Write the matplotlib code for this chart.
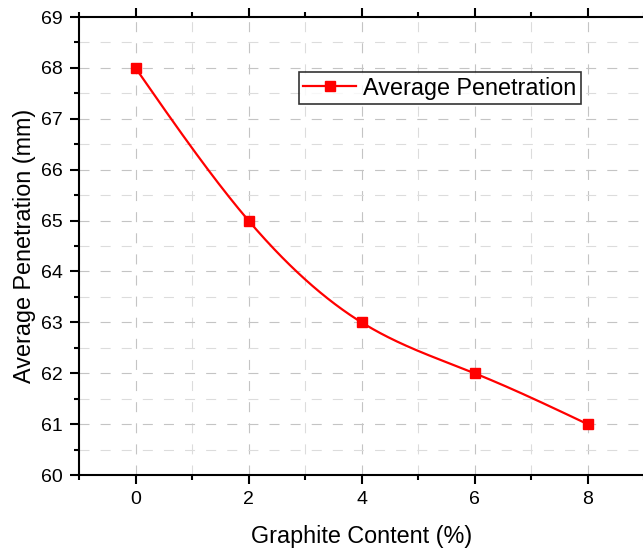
import numpy as np
import matplotlib
matplotlib.use("Agg")
import matplotlib.pyplot as plt
from matplotlib.ticker import MultipleLocator

graphite = [0, 2, 4, 6, 8]
penetration = [68, 65, 63, 62, 61]
series_label = "Average Penetration"
x_label = "Graphite Content (%)"
y_label = "Average Penetration (mm)"


def natural_spline(x, y, n=300):
    x = np.asarray(x, float)
    y = np.asarray(y, float)
    k = len(x)
    h = np.diff(x)
    A = np.zeros((k, k))
    b = np.zeros(k)
    A[0, 0] = 1
    A[-1, -1] = 1
    for i in range(1, k - 1):
        A[i, i - 1] = h[i - 1]
        A[i, i] = 2 * (h[i - 1] + h[i])
        A[i, i + 1] = h[i]
        b[i] = 6 * ((y[i + 1] - y[i]) / h[i] - (y[i] - y[i - 1]) / h[i - 1])
    M = np.linalg.solve(A, b)
    xs = np.linspace(x[0], x[-1], n)
    ys = np.empty_like(xs)
    for j, xv in enumerate(xs):
        i = min(np.searchsorted(x, xv, side="right") - 1, k - 2)
        t1 = x[i + 1] - xv
        t0 = xv - x[i]
        hi = h[i]
        ys[j] = (M[i] * t1 ** 3 / (6 * hi) + M[i + 1] * t0 ** 3 / (6 * hi)
                 + (y[i] / hi - M[i] * hi / 6) * t1
                 + (y[i + 1] / hi - M[i + 1] * hi / 6) * t0)
    return xs, ys


plt.rcParams["font.family"] = ["Liberation Sans", "DejaVu Sans"]

fig = plt.figure(figsize=(6.43, 5.48), dpi=100)
ax = fig.add_axes([79 / 643, (548 - 475) / 548, 565 / 643, 458 / 548])

xs, ys = natural_spline(graphite, penetration)
ax.plot(xs, ys, color="#ff0000", lw=1.6, zorder=3)
ax.plot(graphite, penetration, ls="none", marker="s", ms=7.2,
        color="#ff0000", zorder=4)
# legend proxy
ax.plot([], [], color="#ff0000", lw=1.6, marker="s", ms=7.2,
        label=series_label)

ax.set_xlim(-1, 9)
ax.set_ylim(60, 69)
ax.xaxis.set_major_locator(MultipleLocator(2))
ax.xaxis.set_minor_locator(MultipleLocator(1))
ax.yaxis.set_major_locator(MultipleLocator(1))
ax.yaxis.set_minor_locator(MultipleLocator(0.5))

ax.grid(which="major", color="#c4c4c4", ls=(0, (9, 10)), lw=0.8)
ax.grid(which="minor", color="#dcdcdc", ls=(0, (9, 10)), lw=0.8)
ax.set_axisbelow(True)

for s in ax.spines.values():
    s.set_linewidth(1.5)
    s.set_color("black")

ax.tick_params(which="major", direction="out", length=6.5, width=1.5,
               labelsize=14, pad=5, top=True, right=True)
ax.tick_params(which="minor", direction="out", length=3.5, width=1.5,
               top=True, right=True)

ax.set_xlabel(x_label, fontsize=16.8, labelpad=12)
ax.set_ylabel(y_label, fontsize=16.8, labelpad=4)

leg = ax.legend(loc="upper left", bbox_to_anchor=(0.389, 0.880),
                borderaxespad=0, fontsize=16.8, frameon=True, fancybox=False,
                edgecolor="black", handlelength=2.25, handletextpad=0.3,
                borderpad=0.2)
leg.get_frame().set_linewidth(1.2)

fig.savefig("out.png", dpi=100)
